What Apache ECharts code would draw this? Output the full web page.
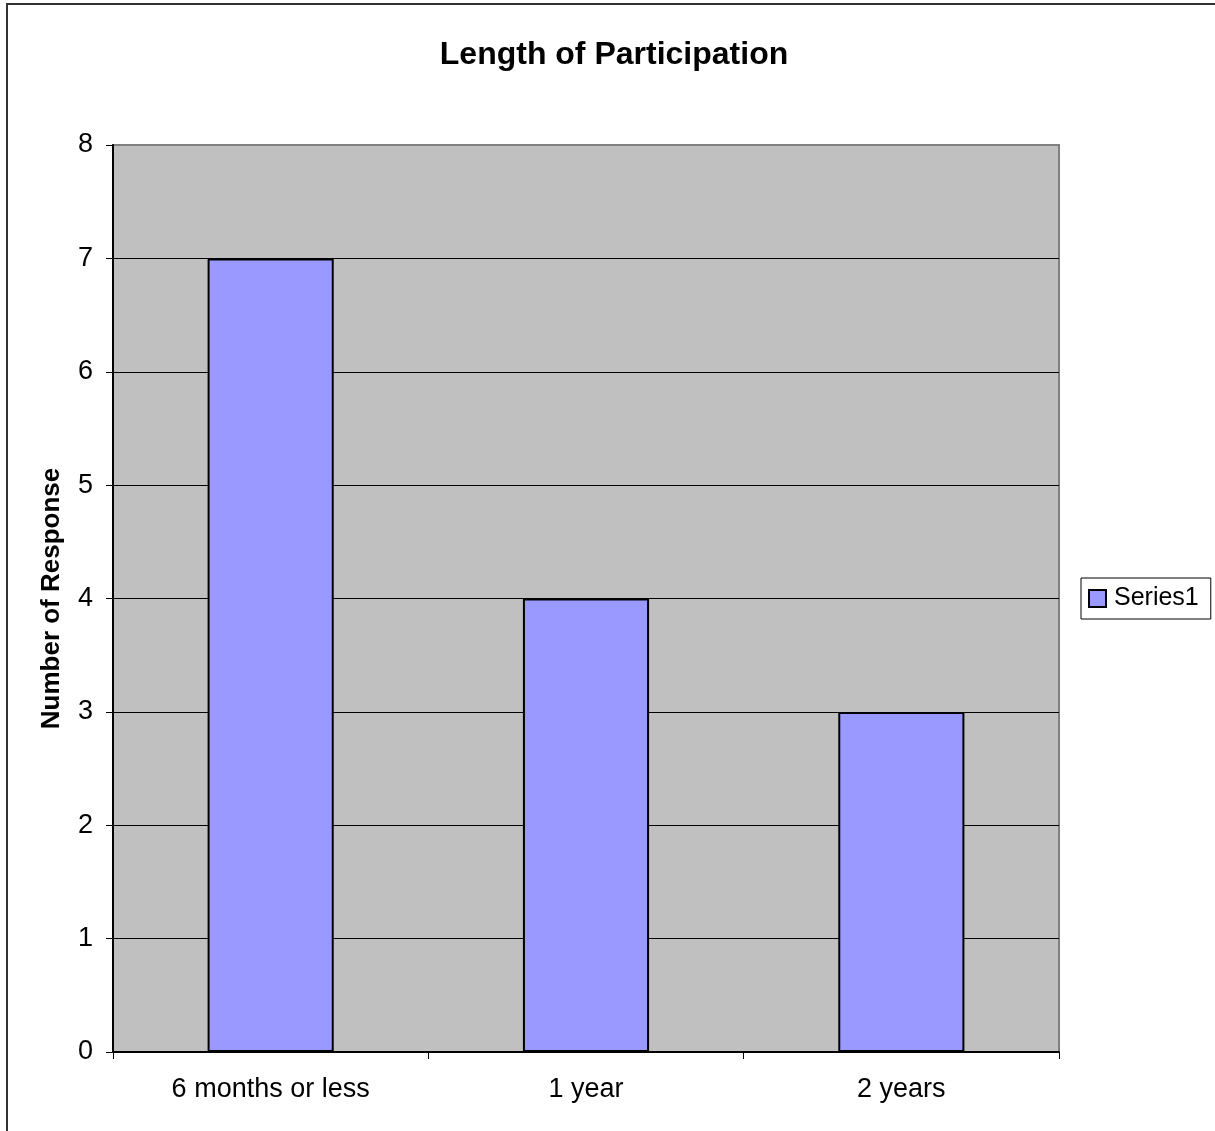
<!DOCTYPE html>
<html>
<head>
<meta charset="utf-8">
<script src="https://cdn.jsdelivr.net/npm/echarts@6/dist/echarts.min.js"></script>
<style>
html,body{margin:0;padding:0;background:#fff;}
#chart{width:1215px;height:1131px;}
</style>
</head>
<body>
<div id="chart"></div>
<script>
const categories = ['6 months or less', '1 year', '2 years'];
const series1 = [7, 4, 3];
const seriesName = 'Series1';
const chartTitle = 'Length of Participation';
const yAxisTitle = 'Number of Response';

const FONT = '"Liberation Sans", Arial, sans-serif';
const chart = echarts.init(document.getElementById('chart'), null, {renderer: 'canvas'});
chart.setOption({
  animation: false,
  backgroundColor: '#ffffff',
  textStyle: {fontFamily: FONT, color: '#000'},
  title: {
    text: chartTitle,
    left: 609,
    top: 34,
    textAlign: 'center',
    textStyle: {fontFamily: FONT, fontSize: 32, fontWeight: 'bold', color: '#000'}
  },
  legend: {
    show: true,
    orient: 'vertical',
    left: 1081,
    top: 578,
    padding: [8, 12, 8, 7],
    borderColor: '#000',
    borderWidth: 1,
    backgroundColor: '#fff',
    itemWidth: 17,
    itemHeight: 17,
    itemGap: 0,
    icon: 'rect',
    textStyle: {fontFamily: FONT, fontSize: 25, color: '#000', padding: [0, 0, 0, 3]},
    data: [{name: seriesName, itemStyle: {color: '#9999FF', borderColor: '#000', borderWidth: 2}}]
  },
  grid: {
    left: 113, top: 145, right: 156, bottom: 79,
    show: true,
    backgroundColor: '#C0C0C0',
    borderColor: '#808080',
    borderWidth: 2,
    containLabel: false
  },
  xAxis: {
    type: 'category',
    data: categories,
    boundaryGap: true,
    axisLine: {show: true, lineStyle: {color: '#000', width: 2}},
    axisTick: {show: true, length: 7, inside: false, alignWithLabel: false, lineStyle: {color: '#000', width: 1}},
    axisLabel: {fontFamily: FONT, fontSize: 27, color: '#000', margin: 24},
    splitLine: {show: false}
  },
  yAxis: {
    type: 'value',
    min: 0, max: 8, interval: 1,
    name: yAxisTitle,
    nameLocation: 'middle',
    nameGap: 48,
    nameRotate: 90,
    nameTextStyle: {fontFamily: FONT, fontSize: 26, fontWeight: 'bold', color: '#000'},
    axisLine: {show: true, lineStyle: {color: '#000', width: 2}},
    axisTick: {show: true, length: 7, lineStyle: {color: '#000', width: 1}},
    axisLabel: {fontFamily: FONT, fontSize: 27, color: '#000', margin: 20},
    splitLine: {show: true, lineStyle: {color: ['#000','#000','#000','#000','#000','#000','#000','#000','#808080'], width: 1}}
  },
  series: [{
    name: seriesName,
    type: 'bar',
    data: series1,
    barWidth: '40%',
    itemStyle: {color: '#9999FF', borderColor: '#000', borderWidth: 2}
  }],
  graphic: [{
    type: 'rect',
    shape: {x: 7, y: 4, width: 1300, height: 1300},
    style: {fill: 'none', stroke: '#333', lineWidth: 2},
    silent: true,
    z: 100
  }]
});
</script>
</body>
</html>
